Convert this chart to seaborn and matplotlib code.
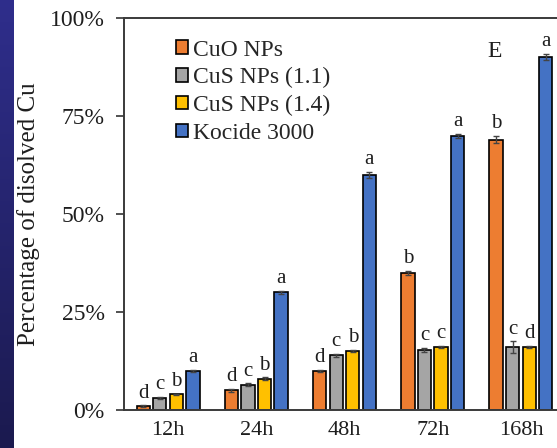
import numpy as np
import pandas as pd
import matplotlib
matplotlib.use("Agg")
import matplotlib.pyplot as plt
from matplotlib.ticker import PercentFormatter
from matplotlib.colors import LinearSegmentedColormap
import seaborn as sns

# Dissolved Cu (%) per time point for each copper material
times = ["12h", "24h", "48h", "72h", "168h"]
series = ["CuO NPs", "CuS NPs (1.1)", "CuS NPs (1.4)", "Kocide 3000"]
cuo = [1.0, 5.0, 10.0, 35.0, 69.0]
cus_11 = [3.0, 6.5, 14.0, 15.3, 16.0]
cus_14 = [4.0, 8.0, 15.0, 16.0, 16.0]
kocide = [10.0, 30.0, 60.0, 70.0, 90.0]

# standard deviations (%)
cuo_sd = [0.2, 0.3, 0.3, 0.5, 1.0]
cus_11_sd = [0.3, 0.3, 0.4, 0.5, 1.5]
cus_14_sd = [0.2, 0.3, 0.3, 0.3, 0.3]
kocide_sd = [0.3, 0.4, 0.8, 0.5, 0.8]

# significance letters
cuo_sig = ["d", "d", "d", "b", "b"]
cus_11_sig = ["c", "c", "c", "c", "c"]
cus_14_sig = ["b", "b", "b", "c", "d"]
kocide_sig = ["a", "a", "a", "a", "a"]

colors = ["#ED7D31", "#A5A5A5", "#FFC000", "#4472C4"]

values = [cuo, cus_11, cus_14, kocide]
sds = [cuo_sd, cus_11_sd, cus_14_sd, kocide_sd]
sigs = [cuo_sig, cus_11_sig, cus_14_sig, kocide_sig]

df = pd.DataFrame(
    [(t, s, v / 100.0) for s, vals in zip(series, values) for t, v in zip(times, vals)],
    columns=["time", "material", "dissolved"],
)

sns.set_theme(style="white")
plt.rcParams["font.family"] = ["Liberation Serif", "DejaVu Serif"]

fig = plt.figure(figsize=(5.57, 4.48), dpi=100)
fig.patch.set_facecolor("white")

# dark gradient strip at the left edge
strip = fig.add_axes([0, 0, 14 / 557, 1])
grad = np.linspace(0, 1, 256).reshape(-1, 1)
cmap = LinearSegmentedColormap.from_list("strip", ["#2f2e8c", "#1b1a4f"])
strip.imshow(grad, aspect="auto", cmap=cmap, extent=[0, 1, 0, 1], origin="upper")
strip.set_axis_off()

ax = fig.add_axes([124 / 557, 38 / 448, 441 / 557, 392 / 448])

sns.barplot(
    data=df, x="time", y="dissolved", hue="material",
    order=times, hue_order=series, palette=colors, saturation=1,
    width=0.75, gap=0.2, edgecolor="black", linewidth=1.2,
    errorbar=None, ax=ax,
)

for cont, sd, sig in zip(ax.containers, sds, sigs):
    for bar, e, lab in zip(cont, sd, sig):
        cx = bar.get_x() + bar.get_width() / 2
        top = bar.get_height()
        ax.errorbar(cx, top, yerr=e / 100.0, fmt="none", ecolor="#444444",
                    elinewidth=1.0, capsize=2.5, capthick=1.0, zorder=3)
        ax.annotate(lab, (cx, top + e / 100.0), xytext=(0, 2),
                    textcoords="offset points", ha="center", va="bottom",
                    fontsize=15, color="#1e1e1e")

ax.set_xlim(-0.5, 4.5)
ax.set_ylim(0, 1.0)
ax.yaxis.set_major_formatter(PercentFormatter(1.0, decimals=0))
ax.set_yticks([0, 0.25, 0.5, 0.75, 1.0])
ax.tick_params(axis="y", left=True, length=6, width=1.2, color="#333333",
               pad=8, labelsize=17, labelcolor="#1e1e1e")
ax.tick_params(axis="x", bottom=False, length=0, pad=8, labelsize=16,
               labelcolor="#1e1e1e")
ax.set_xlabel("")
ax.set_ylabel("Percentage of disolved Cu", fontsize=18, color="#1e1e1e")
ax.yaxis.set_label_coords(-0.19, 0.5)

for side in ["left", "top", "bottom", "right"]:
    ax.spines[side].set_visible(True)
    ax.spines[side].set_color("#3a3a3a")
    ax.spines[side].set_linewidth(1.4)

ax.text(0.841, 0.915, "E", transform=ax.transAxes, ha="center", va="center",
        fontsize=17, color="#1e1e1e")

sns.move_legend(
    ax, "upper left", bbox_to_anchor=(0.118, 0.945), title=None,
    frameon=False, fontsize=17, handlelength=0.5, handleheight=0.5,
    handletextpad=0.2, labelspacing=0.28, borderpad=0, borderaxespad=0,
)

fig.savefig("out.png", dpi=100, facecolor="white")
